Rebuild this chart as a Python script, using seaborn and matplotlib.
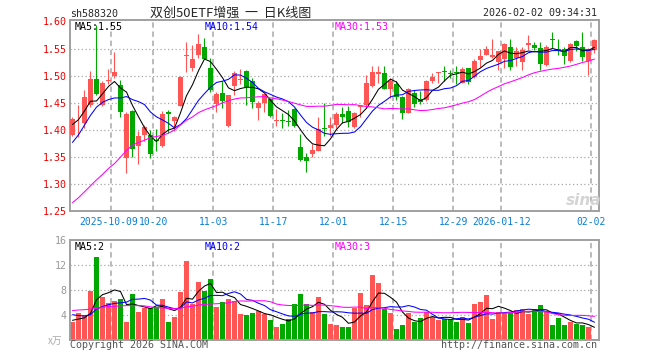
from __future__ import annotations

import matplotlib
import matplotlib.pyplot as plt
import matplotlib.transforms as mtransforms
import numpy as np
import pandas as pd
import seaborn as sns


matplotlib.use("Agg")

W, H = 660, 360
RED = "#ff5555"
GREEN = "#00a800"
GRID = "#a8a8a8"
MONO = "DejaVu Sans Mono"
CJK = ["Noto Sans CJK SC", "DejaVu Sans"]

HOLIDAYS = ["2025-10-01", "2025-10-02", "2025-10-03", "2025-10-06", "2025-10-07",
            "2025-10-08", "2026-01-01", "2026-01-02"]

OPEN = [1.391, 1.423, 1.412, 1.446, 1.494, 1.446, 1.491, 1.499, 1.483, 1.348,
        1.435, 1.371, 1.391, 1.391, 1.380, 1.370, 1.433, 1.416, 1.445, 1.536,
        1.514, 1.538, 1.553, 1.514, 1.448, 1.468, 1.407, 1.481, 1.492, 1.509,
        1.491, 1.440, 1.450, 1.457, 1.417, 1.418, 1.415, 1.439, 1.369, 1.350,
        1.355, 1.362, 1.403, 1.404, 1.410, 1.430, 1.435, 1.406, 1.442, 1.446,
        1.481, 1.503, 1.505, 1.475, 1.485, 1.461, 1.432, 1.469, 1.457, 1.456,
        1.491, 1.505, 1.507, 1.504, 1.506, 1.487, 1.514, 1.497, 1.529, 1.539,
        1.535, 1.526, 1.530, 1.553, 1.533, 1.526, 1.556, 1.556, 1.551, 1.519,
        1.567, 1.550, 1.550, 1.527, 1.564, 1.553, 1.527, 1.547]
HIGH = [1.423, 1.446, 1.473, 1.508, 1.594, 1.490, 1.513, 1.544, 1.492, 1.434,
        1.436, 1.398, 1.410, 1.399, 1.402, 1.435, 1.436, 1.426, 1.499, 1.562,
        1.556, 1.577, 1.570, 1.533, 1.470, 1.491, 1.465, 1.508, 1.512, 1.511,
        1.495, 1.453, 1.467, 1.459, 1.438, 1.432, 1.436, 1.440, 1.392, 1.358,
        1.374, 1.423, 1.449, 1.423, 1.433, 1.442, 1.444, 1.433, 1.446, 1.502,
        1.518, 1.518, 1.518, 1.495, 1.490, 1.462, 1.478, 1.473, 1.472, 1.493,
        1.505, 1.507, 1.518, 1.511, 1.518, 1.516, 1.515, 1.530, 1.550, 1.554,
        1.567, 1.545, 1.560, 1.568, 1.553, 1.553, 1.575, 1.562, 1.562, 1.557,
        1.581, 1.568, 1.553, 1.560, 1.565, 1.581, 1.551, 1.568]
LOW = [1.389, 1.387, 1.404, 1.442, 1.464, 1.444, 1.484, 1.496, 1.424, 1.320,
       1.350, 1.337, 1.380, 1.348, 1.362, 1.369, 1.395, 1.398, 1.444, 1.507,
       1.508, 1.533, 1.530, 1.470, 1.434, 1.440, 1.406, 1.464, 1.484, 1.446,
       1.441, 1.418, 1.434, 1.423, 1.407, 1.403, 1.407, 1.405, 1.342, 1.322,
       1.350, 1.361, 1.389, 1.389, 1.404, 1.413, 1.406, 1.404, 1.423, 1.442,
       1.479, 1.487, 1.475, 1.459, 1.456, 1.421, 1.431, 1.442, 1.448, 1.454,
       1.487, 1.487, 1.490, 1.496, 1.485, 1.486, 1.484, 1.496, 1.516, 1.539,
       1.532, 1.510, 1.514, 1.510, 1.518, 1.510, 1.549, 1.547, 1.510, 1.518,
       1.551, 1.539, 1.522, 1.525, 1.545, 1.527, 1.501, 1.542]
CLOSE = [1.421, 1.424, 1.461, 1.494, 1.467, 1.487, 1.492, 1.507, 1.434, 1.429,
         1.364, 1.388, 1.406, 1.356, 1.379, 1.430, 1.429, 1.423, 1.497, 1.537,
         1.531, 1.558, 1.531, 1.473, 1.467, 1.453, 1.464, 1.505, 1.493, 1.479,
         1.452, 1.450, 1.467, 1.426, 1.418, 1.417, 1.414, 1.408, 1.345, 1.342,
         1.363, 1.402, 1.402, 1.409, 1.429, 1.424, 1.415, 1.431, 1.443, 1.487,
         1.507, 1.507, 1.476, 1.491, 1.461, 1.432, 1.476, 1.448, 1.452, 1.491,
         1.498, 1.506, 1.506, 1.503, 1.505, 1.513, 1.489, 1.528, 1.536, 1.550,
         1.538, 1.545, 1.559, 1.516, 1.545, 1.548, 1.560, 1.551, 1.521, 1.553,
         1.566, 1.545, 1.537, 1.559, 1.554, 1.534, 1.550, 1.565]
VOLUME = [2.9, 4.3, 4.1, 7.9, 13.3, 6.9, 5.9, 6.3, 6.6, 2.9,
          7.4, 4.6, 5.2, 5.2, 5.3, 6.6, 3.0, 3.7, 7.7, 12.7,
          5.8, 9.3, 7.9, 9.8, 5.4, 6.1, 6.6, 6.3, 4.2, 4.0,
          4.3, 4.7, 4.2, 3.2, 2.1, 2.6, 3.4, 5.8, 7.4, 5.8,
          4.5, 6.9, 4.2, 2.6, 2.5, 2.2, 2.1, 5.2, 7.5, 5.6,
          10.4, 9.1, 5.0, 4.3, 1.8, 2.4, 4.3, 2.9, 3.5, 4.5,
          3.8, 3.2, 3.4, 3.4, 3.0, 3.7, 2.7, 5.8, 6.2, 7.2,
          3.4, 4.6, 4.3, 4.3, 4.8, 5.0, 4.2, 5.0, 5.6, 4.6,
          2.4, 3.5, 2.4, 3.0, 2.6, 2.4, 2.2, 0.2]

# moving averages at the left edge reach back before the window
MA5_HEAD = [1.410, 1.419, 1.435, 1.453]
MA10_HEAD = [1.377, 1.391, 1.409, 1.427, 1.442, 1.451, 1.456, 1.459, 1.459]
MA30_HEAD = [1.266, 1.275, 1.286, 1.297, 1.308, 1.318, 1.329, 1.338, 1.350, 1.362,
             1.372, 1.377, 1.381, 1.386, 1.388, 1.390, 1.394, 1.400, 1.409, 1.418,
             1.424, 1.432, 1.437, 1.441, 1.445, 1.450, 1.454, 1.457, 1.459]
VMA5_HEAD = [3.2, 3.4, 3.6, 4.3]
VMA10_HEAD = [4.1, 3.95, 3.9, 4.1, 5.0, 5.4, 5.7, 5.9, 6.0]
VMA30_HEAD = [4.75, 4.85, 4.9, 5.0, 5.1, 5.3, 5.4, 5.45, 5.5, 5.55,
              5.55, 5.55, 5.5, 5.35, 5.2, 5.2, 5.1, 5.05, 5.15, 5.35,
              5.45, 5.65, 5.75, 5.8, 5.85, 5.9, 6.0, 6.2, 6.3]

TICK_DATES = ["2025-10-09", "2025-10-20", "2025-11-03", "2025-11-17", "2025-12-01",
              "2025-12-15", "2025-12-29", "2026-01-12", "2026-02-02"]
TICK_LABELS = ["2025-10-09", "10-20", "11-03", "11-17", "12-01", "12-15", "12-29",
               "2026-01-12", "02-02"]
PRICE_TICKS = [1.25, 1.30, 1.35, 1.40, 1.45, 1.50, 1.55, 1.60]
VOLUME_TICKS = [4, 8, 12, 16]


def fx(px: float) -> float:
    return px / W


def fy(py: float) -> float:
    return 1 - py / H


def moving_average(values: list[float], window: int, head: list[float]) -> np.ndarray:
    ma = pd.Series(values).rolling(window).mean().to_numpy()
    ma[: len(head)] = head
    return ma


def build_frame() -> pd.DataFrame:
    dates = pd.bdate_range("2025-09-22", "2026-02-02")
    dates = dates[~dates.isin(pd.to_datetime(HOLIDAYS))]
    df = pd.DataFrame({"date": dates, "open": OPEN, "high": HIGH, "low": LOW,
                       "close": CLOSE, "vol": VOLUME})
    df["idx"] = np.arange(len(df))
    df["dir"] = np.where(df["close"] >= df["open"], "up", "down")
    df["ma5"] = moving_average(CLOSE, 5, MA5_HEAD)
    df["ma10"] = moving_average(CLOSE, 10, MA10_HEAD)
    df["ma30"] = moving_average(CLOSE, 30, MA30_HEAD)
    df["vma5"] = moving_average(VOLUME, 5, VMA5_HEAD)
    df["vma10"] = moving_average(VOLUME, 10, VMA10_HEAD)
    df["vma30"] = moving_average(VOLUME, 30, VMA30_HEAD)
    return df


def style_panel(ax, ylim, grid_levels, vlines) -> None:
    ax.set_xlim(-0.5, len(OPEN) - 0.33)
    ax.set_ylim(*ylim)
    ax.set_xlabel("")
    ax.set_ylabel("")
    for spine in ax.spines.values():
        spine.set_color("#a0a0a0")
        spine.set_linewidth(1.4)
    for level in grid_levels:
        ax.axhline(level, color=GRID, linestyle=(0, (1, 2)), linewidth=0.9, zorder=1)
    for x in vlines:
        ax.axvline(x, color=GRID, linestyle=(0, (3.5, 2.5)), linewidth=1.1, zorder=1)
    ax.tick_params(length=0, pad=2)


def draw_candles(ax, df: pd.DataFrame) -> None:
    colors = np.where(df["dir"] == "up", RED, GREEN)
    ax.vlines(df["idx"], df["low"], df["high"], colors=colors, linewidth=0.8, zorder=2)
    bottom = np.minimum(df["open"], df["close"])
    height = np.maximum((df["close"] - df["open"]).abs(), 0.0018)
    ax.bar(df["idx"], height, bottom=bottom, width=0.83, color=colors, linewidth=0, zorder=3)


def draw_averages(ax, df: pd.DataFrame, cols: list[str]) -> None:
    for col, color in zip(cols, ["black", "#0000ff", "#ff00ff"]):
        sns.lineplot(data=df, x="idx", y=col, color=color, linewidth=0.75,
                     errorbar=None, ax=ax, zorder=4)


def main() -> None:
    sns.set_style("white")
    plt.rcParams["font.family"] = [MONO, "Noto Sans CJK SC"]
    df = build_frame()
    tick_pos = df.index[df["date"].isin(pd.to_datetime(TICK_DATES))].to_numpy() - 0.5

    fig = plt.figure(figsize=(W / 100, H / 100), dpi=100)
    fig.patch.set_facecolor("white")
    left, width = fx(69.5), (598.5 - 69.5) / W
    price_ax = fig.add_axes([left, fy(211.3), width, (211.3 - 19.7) / H])
    vol_ax = fig.add_axes([left, fy(340.3), width, (340.3 - 240.3) / H])

    # price panel
    draw_candles(price_ax, df)
    draw_averages(price_ax, df, ["ma5", "ma10", "ma30"])
    style_panel(price_ax, (1.25, 1.6033), PRICE_TICKS[1:-1], tick_pos)
    price_ax.set_yticks(PRICE_TICKS)
    price_ax.set_yticklabels([f"{t:.2f}" for t in PRICE_TICKS], color="#ee0000",
                             fontsize=7.2, family=MONO)
    price_ax.set_xticks(tick_pos)
    price_ax.set_xticklabels(TICK_LABELS, color="#0a7fd0", fontsize=7.0, family=MONO)
    price_ax.tick_params(axis="x", pad=4)
    # the first date label sits a little left of its line, as on the original
    first = price_ax.get_xticklabels()[0]
    first.set_transform(first.get_transform()
                        + mtransforms.ScaledTranslation(-2.5 / 100, 0, fig.dpi_scale_trans))

    # volume panel
    sns.barplot(data=df, x="idx", y="vol", hue="dir", palette={"up": RED, "down": GREEN},
                native_scale=True, width=0.83, dodge=False, saturation=1, errorbar=None,
                legend=False, linewidth=0, ax=vol_ax, zorder=2)
    draw_averages(vol_ax, df, ["vma5", "vma10", "vma30"])
    style_panel(vol_ax, (0, 16), VOLUME_TICKS[:-1], tick_pos)
    vol_ax.set_yticks(VOLUME_TICKS)
    vol_ax.set_yticklabels([str(t) for t in VOLUME_TICKS], color="#999999",
                           fontsize=7.2, family=MONO)
    vol_ax.set_xticks([])

    # header and legends
    fig.text(fx(70), fy(16.7), "sh588320", fontsize=7.2, family=MONO, va="baseline")
    fig.text(fx(150), fy(16.9), "双创50ETF增强  一  日K线图", fontsize=9.4, family=CJK,
             va="baseline")
    fig.text(fx(597), fy(16.5), "2026-02-02 09:34:31", fontsize=7.2, family=MONO,
             va="baseline", ha="right")
    for x, y, text, color in [
        (74.5, 30, "MA5:1.55", "black"), (205, 30, "MA10:1.54", "#0000ff"),
        (334.5, 30, "MA30:1.53", "#ff00ff"), (74.5, 250.5, "MA5:2", "black"),
        (205, 250.5, "MA10:2", "#0000ff"), (334.5, 250.5, "MA30:3", "#ff00ff"),
    ]:
        fig.text(fx(x), fy(y), text, color=color, fontsize=7.2, family=MONO, va="baseline")

    fig.text(fx(48), fy(344), "x万", color="#aaaaaa", fontsize=7, family=CJK,
             va="baseline", style="italic")
    fig.text(fx(70), fy(348.5), "Copyright 2026 SINA.COM", color="#555555",
             fontsize=7.2, family=MONO, va="baseline")
    fig.text(fx(597), fy(348.5), "http://finance.sina.com.cn", color="#555555",
             fontsize=7.2, family=MONO, va="baseline", ha="right")
    fig.text(fx(566), fy(205), "sina", color="#d4d4d4", fontsize=11, family="DejaVu Sans",
             style="italic", weight="bold", va="baseline")

    fig.savefig("out.png", dpi=100)
    plt.close(fig)


if __name__ == "__main__":
    main()
